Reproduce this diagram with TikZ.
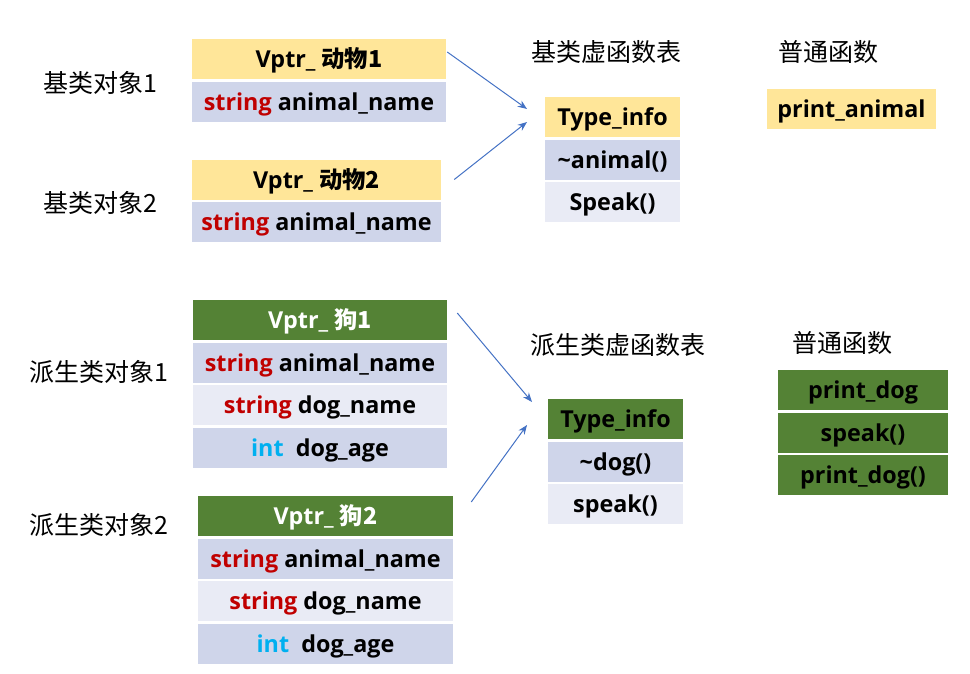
\documentclass[tikz,border=0pt]{standalone}
\usepackage{fontspec}
\setmainfont{Open Sans}
\newfontfamily\cjk{Noto Sans CJK SC}
\usetikzlibrary{positioning}
\usetikzlibrary{arrows.meta}
\definecolor{cellyellow}{HTML}{FFE699}
\definecolor{celldark}{HTML}{CFD5EA}
\definecolor{celllight}{HTML}{E9EBF5}
\definecolor{cellgreen}{HTML}{548235}
\definecolor{kwred}{HTML}{C00000}
\definecolor{kwcyan}{HTML}{00B0F0}
\definecolor{ptrblue}{HTML}{4472C4}
\newcommand{\kwstring}{\textcolor{kwred}{string}}
\newcommand{\kwint}{\textcolor{kwcyan}{int}}
\tikzset{
  cell/.style={inner sep=0pt, minimum height=30pt, text height=15pt, text depth=2pt, font=\fontsize{17.5}{20}\selectfont\bfseries},
  tag/.style={font=\cjk\fontsize{18.75}{22}\selectfont},
  ptr/.style={draw=ptrblue, line width=0.75pt, -{Stealth[length=7pt,width=5.5pt]}}
}
\begin{document}
\begin{tikzpicture}[x=0.75pt,y=-0.75pt,node distance=1.5pt]
\useasboundingbox (0,0) rectangle (970,674);
% labels
\node[tag] (lbA) at (100,83) {基类对象1};
\node[tag] (lbB) at (100,203) {基类对象2};
\node[tag] (lbC) at (99,372) {派生类对象1};
\node[tag] (lbD) at (99,525) {派生类对象2};
\node[tag] (hdA) at (606,52) {基类虚函数表};
\node[tag] (hdB) at (828,52) {普通函数};
\node[tag] (hdC) at (618,345) {派生类虚函数表};
\node[tag] (hdD) at (842,343) {普通函数};
% base objects
\node[cell, fill=cellyellow, minimum width=190.5pt] (vpA) at (319,59) {Vptr\_ {\cjk 动物1}};
\node[cell, fill=celldark, minimum width=190.5pt, below=of vpA] (anA) {\kwstring{} animal\_name};
\node[cell, fill=cellyellow, minimum width=186.75pt] (vpB) at (316.5,179.5) {Vptr\_ {\cjk 动物2}};
\node[cell, fill=celldark, minimum width=186.75pt, below=of vpB] (anB) {\kwstring{} animal\_name};
% derived objects
\node[cell, fill=cellgreen, text=white, minimum width=190.5pt] (vpC) at (320,320) {Vptr\_ {\cjk 狗1}};
\node[cell, fill=celldark, minimum width=190.5pt, below=of vpC] (anC) {\kwstring{} animal\_name};
\node[cell, fill=celllight, minimum width=190.5pt, below=of anC] (dnC) {\kwstring{} dog\_name};
\node[cell, fill=celldark, minimum width=190.5pt, below=of dnC] (daC) {\kwint{}\ \ dog\_age};
\node[cell, fill=cellgreen, text=white, minimum width=191.25pt] (vpD) at (325.5,516) {Vptr\_ {\cjk 狗2}};
\node[cell, fill=celldark, minimum width=191.25pt, below=of vpD] (anD) {\kwstring{} animal\_name};
\node[cell, fill=celllight, minimum width=191.25pt, below=of anD] (dnD) {\kwstring{} dog\_name};
\node[cell, fill=celldark, minimum width=191.25pt, below=of dnD] (daD) {\kwint{}\ \ dog\_age};
% virtual tables
\node[cell, fill=cellyellow, minimum width=101.25pt] (tiA) at (612.5,117) {Type\_info};
\node[cell, fill=celldark, minimum width=101.25pt, below=of tiA] (dtA) {\char`\~animal()};
\node[cell, fill=celllight, minimum width=101.25pt, below=of dtA] (spA) {Speak()};
\node[cell, fill=cellgreen, minimum width=101.25pt] (tiB) at (615.5,419) {Type\_info};
\node[cell, fill=celldark, minimum width=101.25pt, below=of tiB] (dtB) {\char`\~dog()};
\node[cell, fill=celllight, minimum width=101.25pt, below=of dtB] (spB) {speak()};
% plain functions
\node[cell, fill=cellyellow, minimum width=126.75pt] (paA) at (851.5,108.5) {print\_animal};
\node[cell, fill=cellgreen, minimum width=127.5pt] (pdB) at (863,390) {print\_dog};
\node[cell, fill=cellgreen, minimum width=127.5pt, below=of pdB] (skB) {speak()};
\node[cell, fill=cellgreen, minimum width=127.5pt, below=of skB] (pfB) {print\_dog()};
% pointers
\coordinate (inA) at (527,109);
\coordinate (inB) at (527,122);
\coordinate (inC) at (532,402);
\coordinate (inD) at (527,425);
\draw[ptr] ([shift={(1,-7)}]vpA.east) -- (inA);
\draw[ptr] ([shift={(13,0)}]vpB.east) -- (inB);
\draw[ptr] ([shift={(10,-7)}]vpC.east) -- (inC);
\draw[ptr] ([shift={(18,-14)}]vpD.east) -- (inD);
\end{tikzpicture}
\end{document}
